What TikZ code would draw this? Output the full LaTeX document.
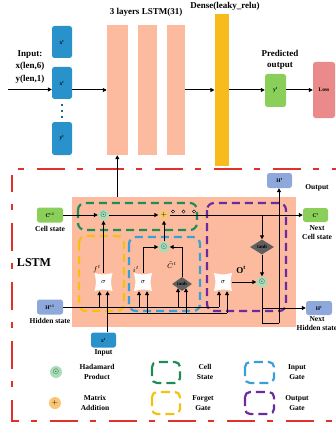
\documentclass[tikz,border=0pt]{standalone}
\usepackage{fontspec}
\setmainfont{Liberation Serif}
\usetikzlibrary{arrows.meta,shapes.geometric,calc}
\definecolor{cblue}{HTML}{2A92CB}
\definecolor{csalmon}{HTML}{FCBB9E}
\definecolor{cdense}{HTML}{F7BC1C}
\definecolor{cgreen}{HTML}{8BCF5B}
\definecolor{closs}{HTML}{EB8A8A}
\definecolor{chid}{HTML}{8EA8DC}
\definecolor{chad}{HTML}{A7DDB8}
\definecolor{cadd}{HTML}{F9C675}
\definecolor{ctanh}{HTML}{5F5F5F}
\definecolor{cred}{HTML}{E0322B}
\definecolor{gcell}{HTML}{1F8C55}
\definecolor{gforget}{HTML}{F5C00F}
\definecolor{ginput}{HTML}{3A9FD6}
\definecolor{goutput}{HTML}{6B2AA0}
\begin{document}
\begin{tikzpicture}[x=1pt,y=-1pt, font=\bfseries,
  arr/.style={line width=1pt,-{Triangle[length=4pt,width=4pt]}},
  ln/.style={line width=1pt},
  sbox/.style={rounded corners=2.5pt, inner sep=0pt, font=\bfseries\fontsize{5.5}{6}\selectfont},
  bar/.style={fill=csalmon, inner sep=0pt},
  lbl/.style={font=\bfseries\fontsize{7.5}{9.5}\selectfont, align=center, inner sep=0pt},
  ttl/.style={font=\bfseries\fontsize{9}{12.5}\selectfont, align=center, inner sep=0pt},
  opc/.style={circle, inner sep=0pt, minimum size=11pt, font=\fontsize{7}{7}\selectfont},
  sig/.style={minimum size=18pt, inner sep=0pt, font=\fontsize{7}{7}\selectfont},
  th/.style={diamond, fill=ctanh, inner sep=0pt, font=\bfseries\fontsize{5}{5}\selectfont},
  gate/.style={line width=2.2pt, dash pattern=on 8pt off 5pt, rounded corners=7pt},
  lgate/.style={line width=2.2pt, dash pattern=on 9pt off 5pt, rounded corners=5pt},
  glab/.style={font=\fontsize{7}{7}\selectfont, inner sep=0pt},
]
\useasboundingbox (0,0) rectangle (336,425);

% ---------- top part ----------
\node[sbox, fill=cblue, minimum width=20pt, minimum height=32pt] (x1) at (62,42) {x\textsuperscript{t}};
\node[sbox, fill=cblue, minimum width=20pt, minimum height=32pt] (x2) at (62,83) {x\textsuperscript{t}};
\node[sbox, fill=cblue, minimum width=20pt, minimum height=33pt] (x3) at (62,138.5) {y\textsuperscript{t}};
\foreach \yy in {105,111,117} \fill[cblue!70!black] (60.7,\yy-1.3) rectangle (63.3,\yy+1.3);
\node[ttl] (inlbl) at (30,67) {Input:\\x(len,6)\\y(len,1)};
\coordinate (inl) at (8,89.5);
\draw[arr] (inl) -- (inl -| x2.west);

\node[bar, minimum width=20.7pt, minimum height=130pt] (l1) at (117.3,90) {};
\node[bar, minimum width=19pt, minimum height=130pt] (l2) at (147.8,90) {};
\node[bar, minimum width=18pt, minimum height=130pt] (l3) at (175.7,90) {};
\node[ttl] at (146,12.5) {3 layers LSTM(31)};
\node[fill=cdense, inner sep=0pt, minimum width=14.3pt, minimum height=152pt] (dense) at (221.8,90) {};
\node[ttl] at (225,6) {Dense(leaky\_relu)};
\node[sbox, fill=cgreen, minimum width=21pt, minimum height=33pt] (yp) at (275.5,90.5) {y\textsuperscript{t}};
\node[ttl, font=\bfseries\fontsize{9}{11}\selectfont] at (280,59.5) {Predicted\\output};
\node[sbox, fill=closs, minimum width=22pt, minimum height=56pt] (loss) at (324,90) {Loss};
\draw[arr] (x2.east |- l1.west) -- (l1.west);
\draw[arr] (l3.east) -- (dense.west);
\draw[arr] (dense.east) -- (dense.east -| yp.west);
\draw[arr] (yp.east |- dense.east) -- (dense.east -| loss.west);

% ---------- frame ----------
\draw[cred, line width=2pt, dash pattern=on 6pt off 13pt on 28pt off 12pt, dash phase=53pt] (12,169) -- (336,169);
\draw[cred, line width=2pt, dash pattern=on 6pt off 13pt on 28pt off 12pt, dash phase=30pt] (12,175) -- (12,421) -- (336,421);

\node[fill=csalmon, inner sep=0pt, minimum width=224pt, minimum height=130pt] (bg) at (184,262) {};
\draw[arr] (l1.south |- bg.north) -- (l1.south);
\node[font=\bfseries\fontsize{12}{12}\selectfont] at (34,263) {LSTM};

% gate regions
\draw[gate, gcell] (78,203) rectangle (197,230);
\draw[gate, gforget] (79,236) rectangle (124,311);
\draw[gate, ginput] (129,237) rectangle (200,311);
\draw[gate, goutput] (207,203) rectangle (286,311);

% cell state line
\node[sbox, fill=cgreen, minimum width=26pt, minimum height=15pt] (cprev) at (50,215) {C\textsuperscript{t-1}};
\node[lbl] at (50,229) {Cell state};
\node[opc, fill=chad] (mf) at (103.5,215) {$\odot$};
\node[opc, fill=cadd] (add) at (164,215) {$+$};
\node[sbox, fill=cgreen, minimum width=25pt, minimum height=14pt] (cnext) at (315.5,215) {C\textsuperscript{t}};
\node[lbl] at (317,232.5) {Next\\Cell state};
\draw[arr] (cprev) -- (mf);
\draw[arr] (mf) -- (add);
\draw[arr] (add) -- (cnext);
\foreach \xx in {173,183.5,194} \draw[line width=0.5pt, fill=white] (\xx,211.5) circle (1.6);

% sigma backgrounds (concave squares)
\foreach \p in {(103.5,282),(143,282),(223,282)}
  \fill[white, shift={\p}] (-9,-9) .. controls (0,-7) .. (9,-9) .. controls (7,0) .. (9,9) .. controls (0,7) .. (-9,9) .. controls (-7,0) .. cycle;
\node[sig] (sf) at (103.5,282) {$\sigma$};
\node[sig] (si) at (143,282) {$\sigma$};
\node[sig] (so) at (223,282) {$\sigma$};
\node[th, minimum width=20pt, minimum height=14pt] (tc1) at (182,284) {tanh};
\node[opc, fill=chad] (mi) at (164,247) {$\odot$};
\node[glab] at (97,269) {$f^t$};
\node[glab] at (136,269) {$i^t$};
\node[glab] at (172,265) {$\tilde{C}^t$};
\draw[arr] (sf) -- (mf);
\draw[arr] (si.north) |- (mi.west);
\draw[arr] (tc1.north) |- (mi.east);
\draw[arr] (mi) -- (add);

% output gate
\coordinate (jc) at (262,215);
\node[th, minimum width=24pt, minimum height=15pt] (tc2) at (262,247) {tanh};
\node[opc, fill=chad] (mo) at (262,282) {$\odot$};
\node[font=\bfseries\fontsize{9}{9}\selectfont] at (241,270) {O\textsuperscript{t}};
\draw[arr] (jc) -- (tc2);
\draw[arr] (tc2) -- (mo);
\draw[arr] (so) -- (mo);
\node[sbox, fill=chid, minimum width=25pt, minimum height=15pt] (hout) at (279.5,180.5) {H\textsuperscript{t}};
\node[lbl] at (317,188) {Output};
\node[sbox, fill=chid, minimum width=26pt, minimum height=14pt] (hnext) at (319,308) {H\textsuperscript{t}};
\node[lbl] at (317,323.5) {Next\\Hidden state};
\coordinate (lb1) at (262,323);
\coordinate (lb2) at (279,323);
\coordinate (jh) at (262,308);
\draw[ln] (mo) -- (lb1) -- (lb2);
\draw[arr] (lb2) -- (lb2 |- hout.south);
\draw[arr] (jh) -- (hnext);

% hidden state and input
\node[sbox, fill=chid, minimum width=26pt, minimum height=15pt] (hprev) at (50,307) {H\textsuperscript{t-1}};
\node[lbl] at (50,320.5) {Hidden state};
\node[sbox, fill=cblue, minimum width=25pt, minimum height=15pt] (xt) at (103.5,340) {x\textsuperscript{t}};
\node[lbl] at (103.5,353) {Input};
\coordinate (hf) at (99.5,307);  \coordinate (xf) at (107.5,313);
\coordinate (hi) at (139,307);   \coordinate (xi) at (147,313);
\coordinate (ht) at (178,307);   \coordinate (xtt) at (186,313);
\coordinate (ho) at (219,307);   \coordinate (xo) at (227,313);
\draw[ln] (hprev.east) -- (ho);
\draw[ln] (xf) -- (xo);
\draw[arr] (xt.north -| xf) -- (xf |- sf.south);
\foreach \c/\n in {hf/sf,hi/si,xi/si,ho/so,xo/so} \draw[arr] (\c) -- (\c |- \n.south);
\draw[arr] (ht) -- ($(ht |- tc1.south)+(0,-3)$);
\draw[arr] (xtt) -- ($(xtt |- tc1.south)+(0,-3)$);

% ---------- legend ----------
\node[opc, fill=chad, minimum size=12pt] (lh) at (56,372) {$\odot$};
\node[lbl] at (97,372) {Hadamard\\Product};
\node[opc, fill=cadd, minimum size=12pt] (la) at (55,403) {$+$};
\node[lbl] at (95,403) {Matrix\\Addition};
\draw[lgate, gcell] (152,362) rectangle (180,383);
\node[lbl] at (205,372) {Cell\\State};
\draw[lgate, gforget] (152,392) rectangle (180,414);
\node[lbl] at (203,403) {Forget\\Gate};
\draw[lgate, ginput] (245,362) rectangle (274,383);
\node[lbl] at (297,372) {Input\\Gate};
\draw[lgate, goutput] (245,392) rectangle (274,414);
\node[lbl] at (297,403) {Output\\Gate};
\end{tikzpicture}
\end{document}
